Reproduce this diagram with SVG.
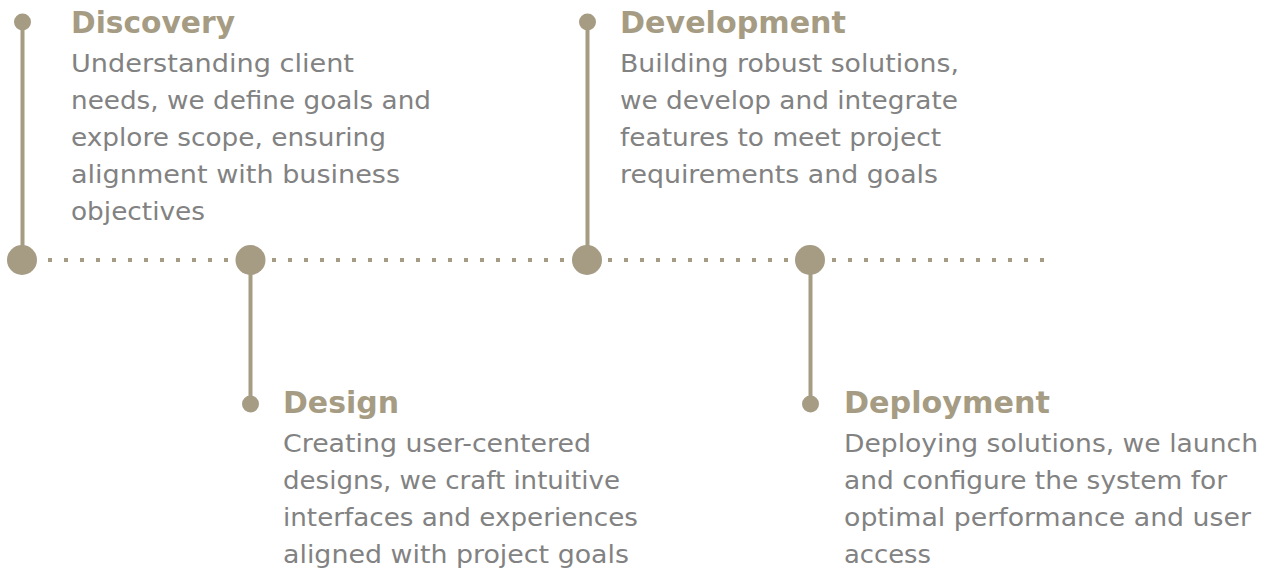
<svg xmlns="http://www.w3.org/2000/svg" width="1263" height="568" viewBox="0 0 1263 568">
<style>
.title{font-family:"DejaVu Sans","Liberation Sans",sans-serif;font-weight:bold;font-size:31px;fill:#a59c83}
.body{font-family:"DejaVu Sans","Liberation Sans",sans-serif;font-size:24px;fill:#828282}
.stem{stroke:#a59c83;stroke-width:4;fill:none}
.big{fill:#a59c83}
.small{fill:#a59c83}
</style>
<rect width="1263" height="568" fill="#ffffff"/>
<g id="connectors">
<line x1="48" y1="260" x2="1044" y2="260" stroke="#a59c83" stroke-width="4" stroke-dasharray="4 12"/>
<line class="stem" x1="22.5" y1="22" x2="22.5" y2="260"/>
<line class="stem" x1="250.5" y1="260" x2="250.5" y2="404"/>
<line class="stem" x1="587.5" y1="22" x2="587.5" y2="260"/>
<line class="stem" x1="810.5" y1="260" x2="810.5" y2="404"/>
</g>
<g id="discovery">
<circle class="big" cx="22" cy="260" r="15"/>
<circle class="small" cx="22.5" cy="22" r="8.5"/>
<text class="title" x="71" y="33" textLength="164" lengthAdjust="spacingAndGlyphs">Discovery</text>
<text class="body" x="71" y="72" textLength="283" lengthAdjust="spacingAndGlyphs">Understanding client</text>
<text class="body" x="71" y="109" textLength="360" lengthAdjust="spacingAndGlyphs">needs, we define goals and</text>
<text class="body" x="71" y="146" textLength="315" lengthAdjust="spacingAndGlyphs">explore scope, ensuring</text>
<text class="body" x="71" y="183" textLength="329" lengthAdjust="spacingAndGlyphs">alignment with business</text>
<text class="body" x="71" y="220" textLength="134" lengthAdjust="spacingAndGlyphs">objectives</text>
</g>
<g id="design">
<circle class="big" cx="250.5" cy="260" r="15"/>
<circle class="small" cx="250.5" cy="404" r="8.5"/>
<text class="title" x="283" y="413" textLength="116" lengthAdjust="spacingAndGlyphs">Design</text>
<text class="body" x="283" y="452" textLength="308" lengthAdjust="spacingAndGlyphs">Creating user-centered</text>
<text class="body" x="283" y="489" textLength="337" lengthAdjust="spacingAndGlyphs">designs, we craft intuitive</text>
<text class="body" x="283" y="526" textLength="355" lengthAdjust="spacingAndGlyphs">interfaces and experiences</text>
<text class="body" x="283" y="563" textLength="346" lengthAdjust="spacingAndGlyphs">aligned with project goals</text>
</g>
<g id="development">
<circle class="big" cx="587" cy="260" r="15"/>
<circle class="small" cx="587.5" cy="22" r="8.5"/>
<text class="title" x="620" y="33" textLength="226" lengthAdjust="spacingAndGlyphs">Development</text>
<text class="body" x="620" y="72" textLength="339" lengthAdjust="spacingAndGlyphs">Building robust solutions,</text>
<text class="body" x="620" y="109" textLength="338" lengthAdjust="spacingAndGlyphs">we develop and integrate</text>
<text class="body" x="620" y="146" textLength="321" lengthAdjust="spacingAndGlyphs">features to meet project</text>
<text class="body" x="620" y="183" textLength="318" lengthAdjust="spacingAndGlyphs">requirements and goals</text>
</g>
<g id="deployment">
<circle class="big" cx="810" cy="260" r="15"/>
<circle class="small" cx="810.5" cy="404" r="8.5"/>
<text class="title" x="844" y="413" textLength="206" lengthAdjust="spacingAndGlyphs">Deployment</text>
<text class="body" x="844" y="452" textLength="414" lengthAdjust="spacingAndGlyphs">Deploying solutions, we launch</text>
<text class="body" x="844" y="489" textLength="383" lengthAdjust="spacingAndGlyphs">and configure the system for</text>
<text class="body" x="844" y="526" textLength="407" lengthAdjust="spacingAndGlyphs">optimal performance and user</text>
<text class="body" x="844" y="563" textLength="87" lengthAdjust="spacingAndGlyphs">access</text>
</g>
</svg>
